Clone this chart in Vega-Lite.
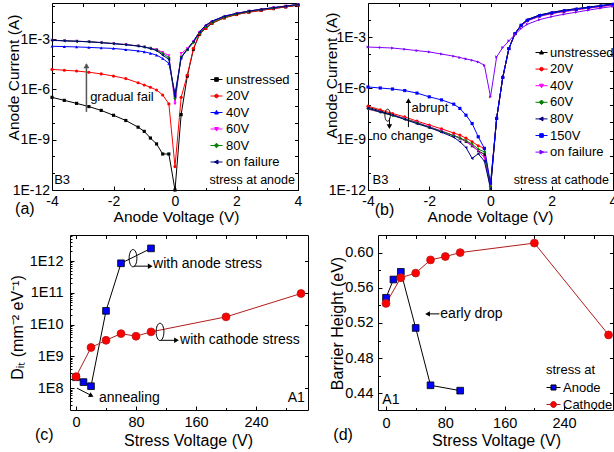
{
"$schema": "https://vega.github.io/schema/vega-lite/v6.json",
"width": 614, "height": 452, "padding": 0, "autosize": {"type": "none"},
"config": {
 "font": "Liberation Sans",
 "view": {"stroke": null},
 "axis": {"grid": false, "domainColor": "#000000", "tickColor": "#000000", "labelColor": "#000000", "titleColor": "#000000", "titleFontWeight": "normal", "labelFontSize": 14, "titleFontSize": 15.5, "tickSize": -4, "labelPadding": 8, "labelFlush": false, "labelOverlap": false, "titleBaseline": "middle", "titlePadding": 0},
 "legend": {"labelColor": "#000000", "titleColor": "#000000", "labelFont": "Liberation Sans", "titleFont": "Liberation Sans"},
 "text": {"color": "#000000", "font": "Liberation Sans"}
},
"datasets": {
"a": [
{"V":-4,"s":"unstressed","I":3.39e-7},{"V":-3.6,"s":"unstressed","I":2.24e-7},{"V":-3.2,"s":"unstressed","I":1.48e-7},{"V":-2.8,"s":"unstressed","I":9.55e-8},{"V":-2.4,"s":"unstressed","I":5.62e-8},{"V":-2,"s":"unstressed","I":2.88e-8},{"V":-1.6,"s":"unstressed","I":1.41e-8},{"V":-1.2,"s":"unstressed","I":5.62e-9},{"V":-1,"s":"unstressed","I":3.16e-9},{"V":-0.8,"s":"unstressed","I":1.26e-9},{"V":-0.6,"s":"unstressed","I":5.62e-10},{"V":-0.4,"s":"unstressed","I":1.41e-10},{"V":-0.2,"s":"unstressed","I":1.41e-10},{"V":0,"s":"unstressed","I":1e-12},{"V":0.2,"s":"unstressed","I":3.16e-8},{"V":0.4,"s":"unstressed","I":6.31e-6},{"V":0.6,"s":"unstressed","I":2.51e-4},{"V":0.8,"s":"unstressed","I":2.0e-3},{"V":1,"s":"unstressed","I":4.47e-3},{"V":1.2,"s":"unstressed","I":8.91e-3},{"V":1.6,"s":"unstressed","I":1.91e-2},{"V":2,"s":"unstressed","I":3.02e-2},{"V":2.4,"s":"unstressed","I":4.17e-2},{"V":2.8,"s":"unstressed","I":5.37e-2},{"V":3.2,"s":"unstressed","I":6.76e-2},{"V":3.6,"s":"unstressed","I":8.51e-2},{"V":4,"s":"unstressed","I":1.07e-1},
{"V":-4,"s":"20V","I":1.58e-5},{"V":-3.6,"s":"20V","I":1.41e-5},{"V":-3.2,"s":"20V","I":1.26e-5},{"V":-2.8,"s":"20V","I":1.07e-5},{"V":-2.4,"s":"20V","I":8.51e-6},{"V":-2,"s":"20V","I":6.31e-6},{"V":-1.6,"s":"20V","I":4.47e-6},{"V":-1.2,"s":"20V","I":2.51e-6},{"V":-1,"s":"20V","I":1.86e-6},{"V":-0.8,"s":"20V","I":1.35e-6},{"V":-0.6,"s":"20V","I":9.33e-7},{"V":-0.4,"s":"20V","I":4.68e-7},{"V":-0.2,"s":"20V","I":1.38e-7},{"V":0,"s":"20V","I":2.51e-11},{"V":0.2,"s":"20V","I":3.39e-7},{"V":0.4,"s":"20V","I":7.24e-6},{"V":0.6,"s":"20V","I":2.82e-4},{"V":0.8,"s":"20V","I":2.19e-3},{"V":1,"s":"20V","I":4.37e-3},{"V":1.2,"s":"20V","I":8.91e-3},{"V":1.6,"s":"20V","I":1.86e-2},{"V":2,"s":"20V","I":2.95e-2},{"V":2.4,"s":"20V","I":4.07e-2},{"V":2.8,"s":"20V","I":5.25e-2},{"V":3.2,"s":"20V","I":6.76e-2},{"V":3.6,"s":"20V","I":8.51e-2},{"V":4,"s":"20V","I":1.07e-1},
{"V":-4,"s":"40V","I":3.8e-4},{"V":-3.6,"s":"40V","I":3.63e-4},{"V":-3.2,"s":"40V","I":3.47e-4},{"V":-2.8,"s":"40V","I":3.24e-4},{"V":-2.4,"s":"40V","I":3.02e-4},{"V":-2,"s":"40V","I":2.82e-4},{"V":-1.6,"s":"40V","I":2.4e-4},{"V":-1.2,"s":"40V","I":2.0e-4},{"V":-1,"s":"40V","I":1.78e-4},{"V":-0.8,"s":"40V","I":1.45e-4},{"V":-0.6,"s":"40V","I":1.12e-4},{"V":-0.4,"s":"40V","I":7.08e-5},{"V":-0.2,"s":"40V","I":3.63e-5},{"V":0,"s":"40V","I":5.62e-7},{"V":0.2,"s":"40V","I":7.59e-5},{"V":0.4,"s":"40V","I":2.6e-4},{"V":0.6,"s":"40V","I":7.6e-4},{"V":0.8,"s":"40V","I":2.8e-3},{"V":1,"s":"40V","I":6.9e-3},{"V":1.2,"s":"40V","I":1.2e-2},{"V":1.6,"s":"40V","I":2.4e-2},{"V":2,"s":"40V","I":3.5e-2},{"V":2.4,"s":"40V","I":4.8e-2},{"V":2.8,"s":"40V","I":6.1e-2},{"V":3.2,"s":"40V","I":7.6e-2},{"V":3.6,"s":"40V","I":9.5e-2},{"V":4,"s":"40V","I":1.17e-1},
{"V":-4,"s":"60V","I":8.71e-4},{"V":-3.6,"s":"60V","I":8.13e-4},{"V":-3.2,"s":"60V","I":7.59e-4},{"V":-2.8,"s":"60V","I":7.08e-4},{"V":-2.4,"s":"60V","I":6.31e-4},{"V":-2,"s":"60V","I":5.5e-4},{"V":-1.6,"s":"60V","I":4.79e-4},{"V":-1.2,"s":"60V","I":3.98e-4},{"V":-1,"s":"60V","I":3.47e-4},{"V":-0.8,"s":"60V","I":2.9e-4},{"V":-0.6,"s":"60V","I":2.51e-4},{"V":-0.4,"s":"60V","I":1.66e-4},{"V":-0.2,"s":"60V","I":1.05e-4},{"V":0,"s":"60V","I":1.38e-7},{"V":0.2,"s":"60V","I":1.41e-4},{"V":0.4,"s":"60V","I":2.7e-4},{"V":0.6,"s":"60V","I":7.2e-4},{"V":0.8,"s":"60V","I":2.6e-3},{"V":1,"s":"60V","I":6.0e-3},{"V":1.2,"s":"60V","I":1.07e-2},{"V":1.6,"s":"60V","I":2.19e-2},{"V":2,"s":"60V","I":3.39e-2},{"V":2.4,"s":"60V","I":4.68e-2},{"V":2.8,"s":"60V","I":6.03e-2},{"V":3.2,"s":"60V","I":7.59e-2},{"V":3.6,"s":"60V","I":9.55e-2},{"V":4,"s":"60V","I":1.17e-1},
{"V":-4,"s":"80V","I":8.71e-4},{"V":-3.6,"s":"80V","I":8.13e-4},{"V":-3.2,"s":"80V","I":7.59e-4},{"V":-2.8,"s":"80V","I":7.08e-4},{"V":-2.4,"s":"80V","I":6.31e-4},{"V":-2,"s":"80V","I":5.5e-4},{"V":-1.6,"s":"80V","I":4.79e-4},{"V":-1.2,"s":"80V","I":3.98e-4},{"V":-1,"s":"80V","I":3.47e-4},{"V":-0.8,"s":"80V","I":2.82e-4},{"V":-0.6,"s":"80V","I":2.24e-4},{"V":-0.4,"s":"80V","I":1.41e-4},{"V":-0.2,"s":"80V","I":7.94e-5},{"V":0,"s":"80V","I":2.82e-7},{"V":0.2,"s":"80V","I":8.91e-5},{"V":0.4,"s":"80V","I":2.3e-4},{"V":0.6,"s":"80V","I":6.3e-4},{"V":0.8,"s":"80V","I":2.3e-3},{"V":1,"s":"80V","I":5.0e-3},{"V":1.2,"s":"80V","I":9.5e-3},{"V":1.6,"s":"80V","I":2.0e-2},{"V":2,"s":"80V","I":3.2e-2},{"V":2.4,"s":"80V","I":4.5e-2},{"V":2.8,"s":"80V","I":5.9e-2},{"V":3.2,"s":"80V","I":7.4e-2},{"V":3.6,"s":"80V","I":9.3e-2},{"V":4,"s":"80V","I":1.15e-1},
{"V":-4,"s":"on failure","I":8.5e-4},{"V":-3.6,"s":"on failure","I":8.0e-4},{"V":-3.2,"s":"on failure","I":7.5e-4},{"V":-2.8,"s":"on failure","I":7.0e-4},{"V":-2.4,"s":"on failure","I":6.2e-4},{"V":-2,"s":"on failure","I":5.4e-4},{"V":-1.6,"s":"on failure","I":4.7e-4},{"V":-1.2,"s":"on failure","I":3.9e-4},{"V":-1,"s":"on failure","I":3.4e-4},{"V":-0.8,"s":"on failure","I":2.75e-4},{"V":-0.6,"s":"on failure","I":2.1e-4},{"V":-0.4,"s":"on failure","I":1.12e-4},{"V":-0.2,"s":"on failure","I":6.31e-5},{"V":0,"s":"on failure","I":3.72e-7},{"V":0.2,"s":"on failure","I":8.13e-5},{"V":0.4,"s":"on failure","I":2.5e-4},{"V":0.6,"s":"on failure","I":7.4e-4},{"V":0.8,"s":"on failure","I":2.7e-3},{"V":1,"s":"on failure","I":6.6e-3},{"V":1.2,"s":"on failure","I":1.15e-2},{"V":1.6,"s":"on failure","I":2.3e-2},{"V":2,"s":"on failure","I":3.45e-2},{"V":2.4,"s":"on failure","I":4.75e-2},{"V":2.8,"s":"on failure","I":6.1e-2},{"V":3.2,"s":"on failure","I":7.6e-2},{"V":3.6,"s":"on failure","I":9.5e-2},{"V":4,"s":"on failure","I":1.17e-1}
],
"b": [
{"V":-4,"s":"unstressed","I":7.41e-8},{"V":-3.6,"s":"unstressed","I":4.47e-8},{"V":-3.2,"s":"unstressed","I":2.69e-8},{"V":-2.8,"s":"unstressed","I":1.58e-8},{"V":-2.4,"s":"unstressed","I":8.91e-9},{"V":-2,"s":"unstressed","I":5.01e-9},{"V":-1.6,"s":"unstressed","I":2.82e-9},{"V":-1.2,"s":"unstressed","I":1.58e-9},{"V":-1,"s":"unstressed","I":1.12e-9},{"V":-0.8,"s":"unstressed","I":7.08e-10},{"V":-0.6,"s":"unstressed","I":3.98e-10},{"V":-0.4,"s":"unstressed","I":2.0e-10},{"V":-0.2,"s":"unstressed","I":1.26e-10},{"V":0,"s":"unstressed","I":1.26e-12},{"V":0.2,"s":"unstressed","I":1.62e-8},{"V":0.4,"s":"unstressed","I":4.17e-6},{"V":0.6,"s":"unstressed","I":2.09e-4},{"V":0.8,"s":"unstressed","I":1.62e-3},{"V":1,"s":"unstressed","I":5.1e-3},{"V":1.2,"s":"unstressed","I":1.05e-2},{"V":1.6,"s":"unstressed","I":1.95e-2},{"V":2,"s":"unstressed","I":2.8e-2},{"V":2.4,"s":"unstressed","I":3.7e-2},{"V":2.8,"s":"unstressed","I":4.6e-2},{"V":3.2,"s":"unstressed","I":5.7e-2},{"V":3.6,"s":"unstressed","I":7.0e-2},{"V":4,"s":"unstressed","I":8.7e-2},
{"V":-4,"s":"20V","I":8.51e-8},{"V":-3.6,"s":"20V","I":5.25e-8},{"V":-3.2,"s":"20V","I":3.16e-8},{"V":-2.8,"s":"20V","I":2.0e-8},{"V":-2.4,"s":"20V","I":1.12e-8},{"V":-2,"s":"20V","I":6.61e-9},{"V":-1.6,"s":"20V","I":3.98e-9},{"V":-1.2,"s":"20V","I":2.24e-9},{"V":-1,"s":"20V","I":1.7e-9},{"V":-0.8,"s":"20V","I":1.12e-9},{"V":-0.6,"s":"20V","I":6.92e-10},{"V":-0.4,"s":"20V","I":3.98e-10},{"V":-0.2,"s":"20V","I":2.82e-10},{"V":0,"s":"20V","I":1.58e-12},{"V":0.2,"s":"20V","I":1.62e-8},{"V":0.4,"s":"20V","I":4.17e-6},{"V":0.6,"s":"20V","I":2.09e-4},{"V":0.8,"s":"20V","I":1.55e-3},{"V":1,"s":"20V","I":4.7e-3},{"V":1.2,"s":"20V","I":8.9e-3},{"V":1.6,"s":"20V","I":1.66e-2},{"V":2,"s":"20V","I":2.4e-2},{"V":2.4,"s":"20V","I":3.16e-2},{"V":2.8,"s":"20V","I":4.0e-2},{"V":3.2,"s":"20V","I":5.0e-2},{"V":3.6,"s":"20V","I":6.2e-2},{"V":4,"s":"20V","I":7.8e-2},
{"V":-4,"s":"40V","I":5.62e-8},{"V":-3.6,"s":"40V","I":3.8e-8},{"V":-3.2,"s":"40V","I":2.51e-8},{"V":-2.8,"s":"40V","I":1.58e-8},{"V":-2.4,"s":"40V","I":9.33e-9},{"V":-2,"s":"40V","I":5.25e-9},{"V":-1.6,"s":"40V","I":3.02e-9},{"V":-1.2,"s":"40V","I":1.58e-9},{"V":-1,"s":"40V","I":1.12e-9},{"V":-0.8,"s":"40V","I":7.08e-10},{"V":-0.6,"s":"40V","I":3.98e-10},{"V":-0.4,"s":"40V","I":2.0e-10},{"V":-0.2,"s":"40V","I":7.94e-11},{"V":0,"s":"40V","I":2.0e-12},{"V":0.2,"s":"40V","I":1.62e-8},{"V":0.4,"s":"40V","I":4.17e-6},{"V":0.6,"s":"40V","I":2.09e-4},{"V":0.8,"s":"40V","I":1.55e-3},{"V":1,"s":"40V","I":4.7e-3},{"V":1.2,"s":"40V","I":8.9e-3},{"V":1.6,"s":"40V","I":1.66e-2},{"V":2,"s":"40V","I":2.4e-2},{"V":2.4,"s":"40V","I":3.16e-2},{"V":2.8,"s":"40V","I":4.0e-2},{"V":3.2,"s":"40V","I":5.0e-2},{"V":3.6,"s":"40V","I":6.2e-2},{"V":4,"s":"40V","I":7.8e-2},
{"V":-4,"s":"60V","I":6.03e-8},{"V":-3.6,"s":"60V","I":3.8e-8},{"V":-3.2,"s":"60V","I":2.4e-8},{"V":-2.8,"s":"60V","I":1.51e-8},{"V":-2.4,"s":"60V","I":8.91e-9},{"V":-2,"s":"60V","I":5.01e-9},{"V":-1.6,"s":"60V","I":2.82e-9},{"V":-1.2,"s":"60V","I":1.58e-9},{"V":-1,"s":"60V","I":1.17e-9},{"V":-0.8,"s":"60V","I":7.94e-10},{"V":-0.6,"s":"60V","I":5.01e-10},{"V":-0.4,"s":"60V","I":2.51e-10},{"V":-0.2,"s":"60V","I":1.78e-10},{"V":0,"s":"60V","I":1.58e-12},{"V":0.2,"s":"60V","I":1.62e-8},{"V":0.4,"s":"60V","I":4.17e-6},{"V":0.6,"s":"60V","I":2.09e-4},{"V":0.8,"s":"60V","I":1.58e-3},{"V":1,"s":"60V","I":4.9e-3},{"V":1.2,"s":"60V","I":9.55e-3},{"V":1.6,"s":"60V","I":1.78e-2},{"V":2,"s":"60V","I":2.57e-2},{"V":2.4,"s":"60V","I":3.39e-2},{"V":2.8,"s":"60V","I":4.27e-2},{"V":3.2,"s":"60V","I":5.37e-2},{"V":3.6,"s":"60V","I":6.61e-2},{"V":4,"s":"60V","I":8.32e-2},
{"V":-4,"s":"80V","I":6.46e-8},{"V":-3.6,"s":"80V","I":3.98e-8},{"V":-3.2,"s":"80V","I":2.51e-8},{"V":-2.8,"s":"80V","I":1.41e-8},{"V":-2.4,"s":"80V","I":7.94e-9},{"V":-2,"s":"80V","I":4.68e-9},{"V":-1.6,"s":"80V","I":2.51e-9},{"V":-1.2,"s":"80V","I":1.26e-9},{"V":-1,"s":"80V","I":6.92e-10},{"V":-0.8,"s":"80V","I":3.16e-10},{"V":-0.6,"s":"80V","I":7.24e-11},{"V":-0.4,"s":"80V","I":1.35e-10},{"V":-0.2,"s":"80V","I":5.01e-11},{"V":0,"s":"80V","I":1.26e-12},{"V":0.2,"s":"80V","I":1.62e-8},{"V":0.4,"s":"80V","I":4.17e-6},{"V":0.6,"s":"80V","I":2.09e-4},{"V":0.8,"s":"80V","I":1.62e-3},{"V":1,"s":"80V","I":5.1e-3},{"V":1.2,"s":"80V","I":1.05e-2},{"V":1.6,"s":"80V","I":1.95e-2},{"V":2,"s":"80V","I":2.8e-2},{"V":2.4,"s":"80V","I":3.7e-2},{"V":2.8,"s":"80V","I":4.6e-2},{"V":3.2,"s":"80V","I":5.7e-2},{"V":3.6,"s":"80V","I":7.0e-2},{"V":4,"s":"80V","I":8.7e-2},
{"V":-4,"s":"150V","I":1.15e-6},{"V":-3.6,"s":"150V","I":1.0e-6},{"V":-3.2,"s":"150V","I":8.71e-7},{"V":-2.8,"s":"150V","I":7.08e-7},{"V":-2.4,"s":"150V","I":5.01e-7},{"V":-2,"s":"150V","I":3.02e-7},{"V":-1.6,"s":"150V","I":2.0e-7},{"V":-1.2,"s":"150V","I":1.12e-7},{"V":-1,"s":"150V","I":6.31e-8},{"V":-0.8,"s":"150V","I":2.51e-8},{"V":-0.6,"s":"150V","I":8.13e-9},{"V":-0.4,"s":"150V","I":1.35e-9},{"V":-0.2,"s":"150V","I":2.82e-10},{"V":0,"s":"150V","I":2.51e-12},{"V":0.2,"s":"150V","I":1.62e-8},{"V":0.4,"s":"150V","I":4.17e-6},{"V":0.6,"s":"150V","I":2.09e-4},{"V":0.8,"s":"150V","I":1.58e-3},{"V":1,"s":"150V","I":4.9e-3},{"V":1.2,"s":"150V","I":9.55e-3},{"V":1.6,"s":"150V","I":1.78e-2},{"V":2,"s":"150V","I":2.57e-2},{"V":2.4,"s":"150V","I":3.39e-2},{"V":2.8,"s":"150V","I":4.27e-2},{"V":3.2,"s":"150V","I":5.37e-2},{"V":3.6,"s":"150V","I":6.61e-2},{"V":4,"s":"150V","I":8.32e-2},
{"V":-4,"s":"on failure","I":2.57e-4},{"V":-3.6,"s":"on failure","I":2.4e-4},{"V":-3.2,"s":"on failure","I":2.24e-4},{"V":-2.8,"s":"on failure","I":1.91e-4},{"V":-2.4,"s":"on failure","I":1.58e-4},{"V":-2,"s":"on failure","I":1.32e-4},{"V":-1.6,"s":"on failure","I":1.0e-4},{"V":-1.2,"s":"on failure","I":7.41e-5},{"V":-1,"s":"on failure","I":6.17e-5},{"V":-0.8,"s":"on failure","I":5.13e-5},{"V":-0.6,"s":"on failure","I":4.27e-5},{"V":-0.4,"s":"on failure","I":3.39e-5},{"V":-0.2,"s":"on failure","I":2.19e-5},{"V":0,"s":"on failure","I":3.02e-7},{"V":0.2,"s":"on failure","I":6.76e-5},{"V":0.4,"s":"on failure","I":2.4e-4},{"V":0.6,"s":"on failure","I":5.89e-4},{"V":0.8,"s":"on failure","I":1.41e-3},{"V":1,"s":"on failure","I":3.16e-3},{"V":1.2,"s":"on failure","I":5.62e-3},{"V":1.6,"s":"on failure","I":1.05e-2},{"V":2,"s":"on failure","I":1.58e-2},{"V":2.4,"s":"on failure","I":2.19e-2},{"V":2.8,"s":"on failure","I":2.88e-2},{"V":3.2,"s":"on failure","I":3.8e-2},{"V":3.6,"s":"on failure","I":5.01e-2},{"V":4,"s":"on failure","I":6.31e-2}
],
"c": [
{"V":0,"s":"Anode","D":2.2e8},{"V":10,"s":"Anode","D":1.55e8},{"V":20,"s":"Anode","D":1.15e8},{"V":40,"s":"Anode","D":2.7e10},{"V":60,"s":"Anode","D":8.5e11},{"V":100,"s":"Anode","D":2.5e12},
{"V":0,"s":"Cathode","D":2.3e8},{"V":20,"s":"Cathode","D":1.9e9},{"V":40,"s":"Cathode","D":3.2e9},{"V":60,"s":"Cathode","D":5.2e9},{"V":80,"s":"Cathode","D":4.3e9},{"V":100,"s":"Cathode","D":5.9e9},{"V":200,"s":"Cathode","D":1.75e10},{"V":300,"s":"Cathode","D":9.5e10}
],
"d": [
{"V":0,"s":"Anode","B":0.5486},{"V":10,"s":"Anode","B":0.5694},{"V":20,"s":"Anode","B":0.5781},{"V":40,"s":"Anode","B":0.5143},{"V":60,"s":"Anode","B":0.4491},{"V":100,"s":"Anode","B":0.443},
{"V":0,"s":"Cathode","B":0.5422},{"V":20,"s":"Cathode","B":0.5714},{"V":40,"s":"Cathode","B":0.5767},{"V":60,"s":"Cathode","B":0.5917},{"V":80,"s":"Cathode","B":0.5955},{"V":100,"s":"Cathode","B":0.6},{"V":200,"s":"Cathode","B":0.6108},{"V":300,"s":"Cathode","B":0.5064}
]
},
"layer": [
{
 "data": {"name": "a"},
 "encoding": {
  "x": {"field": "V", "type": "quantitative", "scale": {"domain": [-4, 4], "range": [52, 298], "nice": false}, "axis": {"orient": "bottom", "offset": -262, "values": [-4, -2, 0, 2, 4], "labelExpr": "replace(datum.label, '−', '-')", "labelPadding": 8.5, "title": "Anode Voltage (V)", "titleX": 176, "titleY": 26.5}},
  "y": {"field": "I", "type": "quantitative", "scale": {"type": "log", "domain": [1e-12, 0.145], "range": [190, 3], "nice": false}, "axis": {"orient": "left", "offset": -52, "values": [1e-12, 1e-9, 1e-6, 1e-3], "labelExpr": "'1E' + round(log(datum.value) / LN10)", "labelPadding": 6.5, "title": "Anode Current (A)", "titleX": -38.5, "titleY": 77}}
 },
 "layer": [
  {"mark": {"type": "line", "strokeWidth": 1}, "encoding": {"stroke": {"field": "s", "type": "nominal", "scale": {"domain": ["unstressed","20V","40V","60V","80V","on failure"], "range": ["#000000","#ff0000","#0000ff","#ff00ff","#008000","#000080"]}, "legend": null}}},
  {"mark": {"type": "point", "filled": true, "opacity": 1, "size": 10}, "encoding": {"fill": {"field": "s", "type": "nominal", "scale": {"domain": ["unstressed","20V","40V","60V","80V","on failure"], "range": ["#000000","#ff0000","#0000ff","#ff00ff","#008000","#000080"]}, "legend": null}, "shape": {"field": "s", "type": "nominal", "scale": {"domain": ["unstressed","20V","40V","60V","80V","on failure"], "range": ["square","circle","triangle-up","triangle-down","diamond","triangle-left"]}, "legend": null}}},
  {"data": {"values": []}, "mark": {"type": "point", "filled": true, "opacity": 1, "size": 144, "strokeWidth": 1},
   "encoding": {
    "fill": {"field": "s", "type": "nominal", "scale": {"domain": ["unstressed","20V","40V","60V","80V","on failure"], "range": ["#000000","#ff0000","#0000ff","#ff00ff","#008000","#000080"]}, "legend": {"orient": "none", "legendX": 210, "legendY": 73, "title": null, "labelFontSize": 13, "symbolSize": 144, "rowPadding": 2.5, "labelOffset": 3, "padding": 0, "symbolStrokeWidth": 1}},
    "stroke": {"field": "s", "type": "nominal", "scale": {"domain": ["unstressed","20V","40V","60V","80V","on failure"], "range": ["#000000","#ff0000","#0000ff","#ff00ff","#008000","#000080"]}, "legend": {"orient": "none", "legendX": 210, "legendY": 73, "title": null, "labelFontSize": 13, "symbolSize": 144, "rowPadding": 2.5, "labelOffset": 3, "padding": 0, "symbolStrokeWidth": 1}},
    "shape": {"field": "s", "type": "nominal", "scale": {"domain": ["unstressed","20V","40V","60V","80V","on failure"], "range": ["M-1,0H1M-0.3,-0.3H0.3V0.3H-0.3Z","M-1,0H1M0.3,0A0.3,0.3 0 1,1 -0.3,0A0.3,0.3 0 1,1 0.3,0Z","M-1,0H1M0,-0.35L0.32,0.25L-0.32,0.25Z","M-1,0H1M0,0.35L0.32,-0.25L-0.32,-0.25Z","M-1,0H1M0,-0.38L0.38,0L0,0.38L-0.38,0Z","M-1,0H1M-0.35,0L0.25,-0.32L0.25,0.32Z"]}, "legend": {"orient": "none", "legendX": 210, "legendY": 73, "title": null, "labelFontSize": 13, "symbolSize": 144, "rowPadding": 2.5, "labelOffset": 3, "padding": 0, "symbolStrokeWidth": 1}}
   }},
  {"data": {"values": [{"V": -2.76, "I": 3.55e-7, "t": "gradual fail"}, {"V": -3.93, "I": 4.2e-12, "t": "B3"}]}, "mark": {"type": "text", "align": "left", "baseline": "middle", "fontSize": 13}, "encoding": {"text": {"field": "t"}}},
  {"data": {"values": [{"V": 3.9, "I": 4.2e-12, "t": "stress at anode"}]}, "mark": {"type": "text", "align": "right", "baseline": "middle", "fontSize": 12.5}, "encoding": {"text": {"field": "t"}}},
  {"data": {"values": [{"V": -5.2, "I": 6.9e-14, "t": "(a)"}]}, "mark": {"type": "text", "align": "left", "baseline": "middle", "fontSize": 16}, "encoding": {"text": {"field": "t"}}},
  {"data": {"values": [{"V": -2.88, "I": 4.6e-8, "I2": 3.2e-5}]}, "mark": {"type": "rule", "color": "#555555", "strokeWidth": 1.5}, "encoding": {"y2": {"field": "I2"}}},
  {"data": {"values": [{"V": -2.88, "I": 2.6e-5}]}, "mark": {"type": "point", "shape": "triangle-up", "filled": true, "color": "#555555", "size": 36, "opacity": 1}}
 ],
 "resolve": {"scale": {"fill": "independent", "stroke": "independent", "shape": "independent"}, "legend": {"fill": "independent", "stroke": "independent", "shape": "independent"}}
},
{"data": {"values": [{"V": 0, "I": 1e-6}]}, "mark": {"type": "point", "opacity": 0},
 "encoding": {
  "x": {"field": "V", "type": "quantitative", "scale": {"domain": [-4, 4], "range": [52, 298], "nice": false}, "axis": {"orient": "top", "offset": -3, "values": [-4,-3,-2,-1,0,1,2,3,4], "labels": false, "title": null, "tickSize": -3.5}},
  "y": {"field": "I", "type": "quantitative", "scale": {"type": "log", "domain": [1e-12, 0.145], "range": [190, 3], "nice": false}, "axis": {"orient": "right", "offset": -316, "values": [1e-12,1e-11,1e-10,1e-9,1e-8,1e-7,1e-6,1e-5,1e-4,1e-3,1e-2,1e-1], "labels": false, "title": null, "tickSize": -3.5}}
 }},
{"data": {"values": [{"V": 0, "I": 1e-6}]}, "mark": {"type": "point", "opacity": 0},
 "encoding": {
  "x": {"field": "V", "type": "quantitative", "scale": {"domain": [-4, 4], "range": [52, 298], "nice": false}, "axis": {"orient": "bottom", "offset": -262, "values": [-3,-1,1,3], "labels": false, "title": null, "domain": false, "tickSize": -2.5}},
  "y": {"field": "I", "type": "quantitative", "scale": {"type": "log", "domain": [1e-12, 0.145], "range": [190, 3], "nice": false}, "axis": {"orient": "left", "offset": -52, "values": [1e-11,1e-10,1e-8,1e-7,1e-5,1e-4,1e-2,1e-1], "labels": false, "title": null, "domain": false, "tickSize": -2.5}}
 }},
{
 "data": {"name": "b"},
 "encoding": {
  "x": {"field": "V", "type": "quantitative", "scale": {"domain": [-4, 4], "range": [368, 613], "nice": false}, "axis": {"orient": "bottom", "offset": -262, "values": [-4, -2, 0, 2, 4], "labelExpr": "replace(datum.label, '−', '-')", "labelPadding": 8.5, "title": "Anode Voltage (V)", "titleX": 490, "titleY": 26.5}},
  "y": {"field": "I", "type": "quantitative", "scale": {"type": "log", "domain": [1e-12, 0.1], "range": [190, 3], "nice": false}, "axis": {"orient": "left", "offset": -368, "values": [1e-12, 1e-9, 1e-6, 1e-3], "labelExpr": "'1E' + round(log(datum.value) / LN10)", "labelPadding": 6.5, "title": "Anode Current (A)", "titleX": -36.5, "titleY": 75}}
 },
 "layer": [
  {"mark": {"type": "line", "strokeWidth": 1}, "encoding": {"stroke": {"field": "s", "type": "nominal", "scale": {"domain": ["unstressed","20V","40V","60V","80V","150V","on failure"], "range": ["#000000","#ff0000","#ff00ff","#008000","#000080","#0000ff","#8000ff"]}, "legend": null}}},
  {"mark": {"type": "point", "filled": true, "opacity": 1, "size": 10}, "encoding": {"fill": {"field": "s", "type": "nominal", "scale": {"domain": ["unstressed","20V","40V","60V","80V","150V","on failure"], "range": ["#000000","#ff0000","#ff00ff","#008000","#000080","#0000ff","#8000ff"]}, "legend": null}, "shape": {"field": "s", "type": "nominal", "scale": {"domain": ["unstressed","20V","40V","60V","80V","150V","on failure"], "range": ["triangle-up","circle","triangle-down","diamond","triangle-left","square","triangle-right"]}, "legend": null}}},
  {"data": {"values": []}, "mark": {"type": "point", "filled": true, "opacity": 1, "size": 144, "strokeWidth": 1},
   "encoding": {
    "fill": {"field": "s", "type": "nominal", "scale": {"domain": ["unstressed","20V","40V","60V","80V","150V","on failure"], "range": ["#000000","#ff0000","#ff00ff","#008000","#000080","#0000ff","#8000ff"]}, "legend": {"orient": "none", "legendX": 535, "legendY": 46, "title": null, "labelFontSize": 13, "symbolSize": 144, "rowPadding": 2.6, "labelOffset": 2, "padding": 0, "symbolStrokeWidth": 1}},
    "stroke": {"field": "s", "type": "nominal", "scale": {"domain": ["unstressed","20V","40V","60V","80V","150V","on failure"], "range": ["#000000","#ff0000","#ff00ff","#008000","#000080","#0000ff","#8000ff"]}, "legend": {"orient": "none", "legendX": 535, "legendY": 46, "title": null, "labelFontSize": 13, "symbolSize": 144, "rowPadding": 2.6, "labelOffset": 2, "padding": 0, "symbolStrokeWidth": 1}},
    "shape": {"field": "s", "type": "nominal", "scale": {"domain": ["unstressed","20V","40V","60V","80V","150V","on failure"], "range": ["M-1,0H1M0,-0.35L0.32,0.25L-0.32,0.25Z","M-1,0H1M0.3,0A0.3,0.3 0 1,1 -0.3,0A0.3,0.3 0 1,1 0.3,0Z","M-1,0H1M0,0.35L0.32,-0.25L-0.32,-0.25Z","M-1,0H1M0,-0.38L0.38,0L0,0.38L-0.38,0Z","M-1,0H1M-0.35,0L0.25,-0.32L0.25,0.32Z","M-1,0H1M-0.3,-0.3H0.3V0.3H-0.3Z","M-1,0H1M0.35,0L-0.25,-0.32L-0.25,0.32Z"]}, "legend": {"orient": "none", "legendX": 535, "legendY": 46, "title": null, "labelFontSize": 13, "symbolSize": 144, "rowPadding": 2.6, "labelOffset": 2, "padding": 0, "symbolStrokeWidth": 1}}
   }},
  {"data": {"values": [{"V": -2.58, "I": 6.46e-8, "t": "abrupt"}, {"V": -3.85, "I": 1.48e-9, "t": "no change"}, {"V": -3.85, "I": 3.9e-12, "t": "B3"}]}, "mark": {"type": "text", "align": "left", "baseline": "middle", "fontSize": 13}, "encoding": {"text": {"field": "t"}}},
  {"data": {"values": [{"V": 3.87, "I": 3.9e-12, "t": "stress at cathode"}]}, "mark": {"type": "text", "align": "right", "baseline": "middle", "fontSize": 12.5}, "encoding": {"text": {"field": "t"}}},
  {"data": {"values": [{"V": -3.78, "I": 6.6e-14, "t": "(b)"}]}, "mark": {"type": "text", "align": "left", "baseline": "middle", "fontSize": 16}, "encoding": {"text": {"field": "t"}}},
  {"data": {"values": [{"V": -2.68, "I": 5.0e-9, "I2": 2.0e-7}, {"V": -3.3, "I": 1.66e-8, "I2": 5.0e-9}]}, "mark": {"type": "rule", "color": "#000000", "strokeWidth": 1}, "encoding": {"y2": {"field": "I2"}}},
  {"data": {"values": [{"V": -2.68, "I": 1.78e-7}]}, "mark": {"type": "point", "shape": "triangle-up", "filled": true, "color": "#000000", "size": 30, "opacity": 1}},
  {"data": {"values": [{"V": -3.3, "I": 5.37e-9}]}, "mark": {"type": "point", "shape": "triangle-down", "filled": true, "color": "#000000", "size": 30, "opacity": 1}},
  {"data": {"values": [{"V": -3.36, "I": 2.51e-8}]}, "mark": {"type": "point", "shape": "M0,-1A0.45,1 0 1,1 0,1A0.45,1 0 1,1 0,-1Z", "filled": false, "color": "#000000", "size": 144, "strokeWidth": 1, "opacity": 1}}
 ],
 "resolve": {"scale": {"fill": "independent", "stroke": "independent", "shape": "independent"}, "legend": {"fill": "independent", "stroke": "independent", "shape": "independent"}}
},
{"data": {"values": [{"V": 0, "I": 1e-6}]}, "mark": {"type": "point", "opacity": 0},
 "encoding": {
  "x": {"field": "V", "type": "quantitative", "scale": {"domain": [-4, 4], "range": [368, 613], "nice": false}, "axis": {"orient": "top", "offset": -3, "values": [-4,-3,-2,-1,0,1,2,3,4], "labels": false, "title": null, "tickSize": -3.5}},
  "y": {"field": "I", "type": "quantitative", "scale": {"type": "log", "domain": [1e-12, 0.1], "range": [190, 3], "nice": false}, "axis": {"orient": "right", "offset": -1, "values": [1e-12,1e-11,1e-10,1e-9,1e-8,1e-7,1e-6,1e-5,1e-4,1e-3,1e-2,1e-1], "labels": false, "title": null, "tickSize": -3.5}}
 }},
{"data": {"values": [{"V": 0, "I": 1e-6}]}, "mark": {"type": "point", "opacity": 0},
 "encoding": {
  "x": {"field": "V", "type": "quantitative", "scale": {"domain": [-4, 4], "range": [368, 613], "nice": false}, "axis": {"orient": "bottom", "offset": -262, "values": [-3,-1,1,3], "labels": false, "title": null, "domain": false, "tickSize": -2.5}},
  "y": {"field": "I", "type": "quantitative", "scale": {"type": "log", "domain": [1e-12, 0.1], "range": [190, 3], "nice": false}, "axis": {"orient": "left", "offset": -368, "values": [1e-11,1e-10,1e-8,1e-7,1e-5,1e-4,1e-2], "labels": false, "title": null, "domain": false, "tickSize": -2.5}}
 }},
{
 "data": {"name": "c"},
 "encoding": {
  "x": {"field": "V", "type": "quantitative", "scale": {"domain": [-8, 309.3], "range": [70, 308], "nice": false}, "axis": {"orient": "bottom", "offset": -42, "values": [0, 80, 160, 240], "labelFontSize": 14.5, "labelPadding": 9, "title": "Stress Voltage (V)", "titleFontSize": 16, "titleX": 188, "titleY": 30}},
  "y": {"field": "D", "type": "quantitative", "scale": {"type": "log", "domain": [2.05e7, 6.6e12], "range": [410, 235], "nice": false}, "axis": {"orient": "left", "offset": -70, "values": [1e8, 1e9, 1e10, 1e11, 1e12], "labelExpr": "'1E' + round(log(datum.value) / LN10)", "labelFontSize": 14.5, "labelPadding": 11, "title": "Dᵢₜ (mm⁻² eV⁻¹)", "titleFontSize": 16, "titleX": -53, "titleY": 327}}
 },
 "layer": [
  {"mark": {"type": "line", "strokeWidth": 1}, "encoding": {"stroke": {"field": "s", "type": "nominal", "scale": {"domain": ["Anode","Cathode"], "range": ["#000000","#b01c1c"]}, "legend": null}}},
  {"mark": {"type": "point", "filled": true, "opacity": 1, "strokeWidth": 0.8}, "encoding": {
    "fill": {"field": "s", "type": "nominal", "scale": {"domain": ["Anode","Cathode"], "range": ["#0000ff","#ff0000"]}, "legend": null},
    "stroke": {"field": "s", "type": "nominal", "scale": {"domain": ["Anode","Cathode"], "range": ["#000000","#b01c1c"]}, "legend": null},
    "shape": {"field": "s", "type": "nominal", "scale": {"domain": ["Anode","Cathode"], "range": ["square","circle"]}, "legend": null},
    "size": {"field": "s", "type": "ordinal", "scale": {"domain": ["Anode","Cathode"], "range": [45, 62]}, "legend": null}}},
  {"data": {"values": [{"V": 102.7, "D": 8e11, "t": "with anode stress"}, {"V": 138.7, "D": 3.2e9, "t": "with cathode stress"}, {"V": 30.7, "D": 4.9e7, "t": "annealing"}]}, "mark": {"type": "text", "align": "left", "baseline": "middle", "fontSize": 14}, "encoding": {"text": {"field": "t"}}},
  {"data": {"values": [{"V": 305, "D": 4.9e7, "t": "A1"}]}, "mark": {"type": "text", "align": "right", "baseline": "middle", "fontSize": 14}, "encoding": {"text": {"field": "t"}}},
  {"data": {"values": [{"V": -54.7, "D": 3.3e6, "t": "(c)"}]}, "mark": {"type": "text", "align": "left", "baseline": "middle", "fontSize": 16}, "encoding": {"text": {"field": "t"}}},
  {"data": {"values": [{"V": 77, "D": 6.9e11, "V2": 98, "D2": 6.9e11}, {"V": 113, "D": 3.2e9, "V2": 133, "D2": 3.2e9}, {"V": 1.3, "D": 1e8, "V2": 19, "D2": 6.1e7}]}, "mark": {"type": "rule", "color": "#000000", "strokeWidth": 1}, "encoding": {"x2": {"field": "V2"}, "y2": {"field": "D2"}}},
  {"data": {"values": [{"V": 99, "D": 6.9e11}, {"V": 134, "D": 3.2e9}]}, "mark": {"type": "point", "shape": "triangle-right", "filled": true, "color": "#000000", "size": 30, "opacity": 1}},
  {"data": {"values": [{"V": 20.5, "D": 5.8e7}]}, "mark": {"type": "point", "shape": "triangle-right", "filled": true, "color": "#000000", "size": 30, "opacity": 1, "angle": 27}},
  {"data": {"values": [{"V": 76, "D": 1.23e12}, {"V": 112, "D": 5.9e9}]}, "mark": {"type": "point", "shape": "M0,-1A0.45,1 0 1,1 0,1A0.45,1 0 1,1 0,-1Z", "filled": false, "color": "#000000", "size": 300, "strokeWidth": 1, "opacity": 1}}
 ]
},
{"data": {"values": [{"V": 0, "D": 1e9}]}, "mark": {"type": "point", "opacity": 0},
 "encoding": {
  "x": {"field": "V", "type": "quantitative", "scale": {"domain": [-8, 309.3], "range": [70, 308], "nice": false}, "axis": {"orient": "top", "offset": -235, "values": [0,40,80,120,160,200,240,280], "labels": false, "title": null, "tickSize": -3.5}},
  "y": {"field": "D", "type": "quantitative", "scale": {"type": "log", "domain": [2.05e7, 6.6e12], "range": [410, 235], "nice": false}, "axis": {"orient": "right", "offset": -306, "values": [1e8, 1e9, 1e10, 1e11, 1e12], "labels": false, "title": null, "tickSize": -3.5}}
 }},
{"data": {"values": [{"V": 0, "D": 1e9}]}, "mark": {"type": "point", "opacity": 0},
 "encoding": {
  "x": {"field": "V", "type": "quantitative", "scale": {"domain": [-8, 309.3], "range": [70, 308], "nice": false}, "axis": {"orient": "bottom", "offset": -42, "values": [40,120,200,280], "labels": false, "title": null, "domain": false, "tickSize": -2.5}},
  "y": {"field": "D", "type": "quantitative", "scale": {"type": "log", "domain": [2.05e7, 6.6e12], "range": [410, 235], "nice": false}, "axis": {"orient": "left", "offset": -70, "values": [3e7,4e7,5e7,6e7,7e7,8e7,9e7,2e8,3e8,4e8,5e8,6e8,7e8,8e8,9e8,2e9,3e9,4e9,5e9,6e9,7e9,8e9,9e9,2e10,3e10,4e10,5e10,6e10,7e10,8e10,9e10,2e11,3e11,4e11,5e11,6e11,7e11,8e11,9e11,2e12,3e12,4e12,5e12,6e12], "labels": false, "title": null, "domain": false, "tickSize": -2}}
 }},
{
 "data": {"name": "d"},
 "encoding": {
  "x": {"field": "V", "type": "quantitative", "scale": {"domain": [-10.8, 306], "range": [378, 613], "nice": false}, "axis": {"orient": "bottom", "offset": -42, "values": [0, 80, 160, 240], "labelFontSize": 14.5, "labelPadding": 10, "title": "Stress Voltage (V)", "titleFontSize": 16, "titleX": 496, "titleY": 30.5}},
  "y": {"field": "B", "type": "quantitative", "scale": {"domain": [0.421, 0.62], "range": [410, 235], "nice": false, "zero": false}, "axis": {"orient": "left", "offset": -378, "values": [0.44, 0.48, 0.52, 0.56, 0.6], "format": ".2f", "labelFontSize": 14.5, "labelPadding": 9, "title": "Barrier Height (eV)", "titleFontSize": 16, "titleX": -41, "titleY": 323}}
 },
 "layer": [
  {"mark": {"type": "line", "strokeWidth": 1}, "encoding": {"stroke": {"field": "s", "type": "nominal", "scale": {"domain": ["Anode","Cathode"], "range": ["#000000","#b01c1c"]}, "legend": null}}},
  {"mark": {"type": "point", "filled": true, "opacity": 1, "strokeWidth": 0.8}, "encoding": {
    "fill": {"field": "s", "type": "nominal", "scale": {"domain": ["Anode","Cathode"], "range": ["#0000ff","#ff0000"]}, "legend": null},
    "stroke": {"field": "s", "type": "nominal", "scale": {"domain": ["Anode","Cathode"], "range": ["#000000","#b01c1c"]}, "legend": null},
    "shape": {"field": "s", "type": "nominal", "scale": {"domain": ["Anode","Cathode"], "range": ["square","circle"]}, "legend": null},
    "size": {"field": "s", "type": "ordinal", "scale": {"domain": ["Anode","Cathode"], "range": [45, 62]}, "legend": null}}},
  {"data": {"values": []}, "mark": {"type": "point", "filled": true, "opacity": 1, "size": 196, "strokeWidth": 1},
   "encoding": {
    "fill": {"field": "s", "type": "nominal", "scale": {"domain": ["Anode","Cathode"], "range": ["#0000ff","#ff0000"]}, "legend": {"orient": "none", "legendX": 546, "legendY": 364, "title": "stress at", "titleFontSize": 13, "titleFontWeight": "normal", "titlePadding": 3, "labelFontSize": 13, "symbolSize": 196, "rowPadding": 2, "labelOffset": 2, "padding": 0, "symbolStrokeWidth": 1}},
    "stroke": {"field": "s", "type": "nominal", "scale": {"domain": ["Anode","Cathode"], "range": ["#000000","#b01c1c"]}, "legend": {"orient": "none", "legendX": 546, "legendY": 364, "title": "stress at", "titleFontSize": 13, "titleFontWeight": "normal", "titlePadding": 3, "labelFontSize": 13, "symbolSize": 196, "rowPadding": 2, "labelOffset": 2, "padding": 0, "symbolStrokeWidth": 1}},
    "shape": {"field": "s", "type": "nominal", "scale": {"domain": ["Anode","Cathode"], "range": ["M-1,0H-0.36M0.36,0H1M-0.36,-0.36H0.36V0.36H-0.36Z","M-1,0H-0.42M0.42,0H1M0.42,0A0.42,0.42 0 1,1 -0.42,0A0.42,0.42 0 1,1 0.42,0Z"]}, "legend": {"orient": "none", "legendX": 546, "legendY": 364, "title": "stress at", "titleFontSize": 13, "titleFontWeight": "normal", "titlePadding": 3, "labelFontSize": 13, "symbolSize": 196, "rowPadding": 2, "labelOffset": 2, "padding": 0, "symbolStrokeWidth": 1}}
   }},
  {"data": {"values": [{"V": 73.2, "B": 0.5303, "t": "early drop"}, {"V": -5, "B": 0.4326, "t": "A1"}]}, "mark": {"type": "text", "align": "left", "baseline": "middle", "fontSize": 14}, "encoding": {"text": {"field": "t"}}},
  {"data": {"values": [{"V": -71, "B": 0.3928, "t": "(d)"}]}, "mark": {"type": "text", "align": "left", "baseline": "middle", "fontSize": 16}, "encoding": {"text": {"field": "t"}}},
  {"data": {"values": [{"V": 57, "B": 0.5303, "V2": 72}]}, "mark": {"type": "rule", "color": "#000000", "strokeWidth": 1}, "encoding": {"x2": {"field": "V2"}}},
  {"data": {"values": [{"V": 56, "B": 0.5303}]}, "mark": {"type": "point", "shape": "triangle-left", "filled": true, "color": "#000000", "size": 30, "opacity": 1}}
 ],
 "resolve": {"scale": {"fill": "independent", "stroke": "independent", "shape": "independent"}, "legend": {"fill": "independent", "stroke": "independent", "shape": "independent"}}
},
{"data": {"values": [{"V": 0, "B": 0.5}]}, "mark": {"type": "point", "opacity": 0},
 "encoding": {
  "x": {"field": "V", "type": "quantitative", "scale": {"domain": [-10.8, 306], "range": [378, 613], "nice": false}, "axis": {"orient": "top", "offset": -235, "values": [0,40,80,120,160,200,240,280], "labels": false, "title": null, "tickSize": -3.5}},
  "y": {"field": "B", "type": "quantitative", "scale": {"domain": [0.421, 0.62], "range": [410, 235], "nice": false, "zero": false}, "axis": {"orient": "right", "offset": -1, "values": [0.44, 0.48, 0.52, 0.56, 0.6], "labels": false, "title": null, "tickSize": -3.5}}
 }},
{"data": {"values": [{"V": 0, "B": 0.5}]}, "mark": {"type": "point", "opacity": 0},
 "encoding": {
  "x": {"field": "V", "type": "quantitative", "scale": {"domain": [-10.8, 306], "range": [378, 613], "nice": false}, "axis": {"orient": "bottom", "offset": -42, "values": [40,120,200,280], "labels": false, "title": null, "domain": false, "tickSize": -2.5}},
  "y": {"field": "B", "type": "quantitative", "scale": {"domain": [0.421, 0.62], "range": [410, 235], "nice": false, "zero": false}, "axis": {"orient": "left", "offset": -378, "values": [0.46, 0.5, 0.54, 0.58], "labels": false, "title": null, "domain": false, "tickSize": -2.5}}
 }}
],
"resolve": {
 "scale": {"x": "independent", "y": "independent", "fill": "independent", "stroke": "independent", "shape": "independent", "size": "independent"},
 "axis": {"x": "independent", "y": "independent"},
 "legend": {"fill": "independent", "stroke": "independent", "shape": "independent", "size": "independent"}
}
}
